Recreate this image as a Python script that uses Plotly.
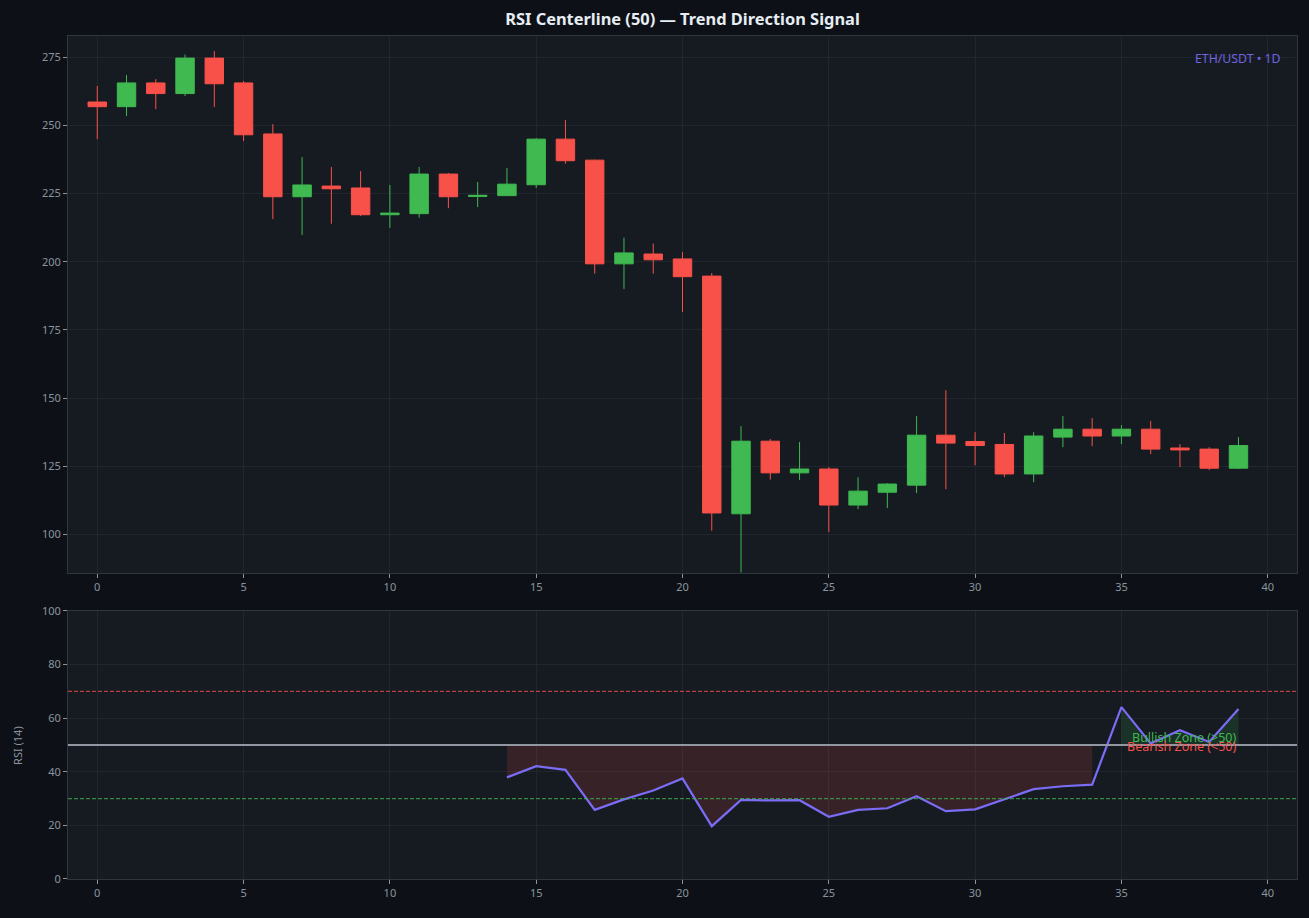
import plotly.graph_objects as go
from plotly.subplots import make_subplots

# candle data (index 0..39)
days = list(range(40))
opens = [258.5, 256.8, 265.5, 261.6, 274.6, 265.5, 246.8, 223.8, 227.7, 227.0,
         217.2, 217.6, 232.1, 223.9, 224.2, 228.2, 244.9, 237.2, 199.2, 202.8,
         201.0, 194.7, 107.6, 134.2, 122.6, 124.0, 110.8, 115.5, 118.1, 136.4,
         134.1, 133.0, 122.2, 135.7, 138.6, 136.1, 138.6, 131.7, 131.3, 124.3]
highs = [264.4, 268.4, 266.9, 275.9, 277.2, 266.2, 250.4, 238.3, 234.7, 233.2,
         228.1, 234.7, 232.5, 229.2, 234.3, 245.3, 251.9, 237.4, 208.8, 206.6,
         203.6, 195.8, 139.7, 135.0, 133.9, 124.7, 121.0, 118.8, 143.4, 152.9,
         137.5, 137.2, 137.5, 143.4, 142.7, 140.1, 141.6, 133.1, 132.0, 135.7]
lows = [244.9, 253.4, 255.9, 260.7, 256.7, 244.2, 215.6, 209.8, 213.9, 216.7,
        212.4, 216.1, 219.6, 220.0, 224.0, 227.0, 235.9, 195.6, 190.0, 195.6,
        181.6, 101.4, 86.1, 120.1, 120.0, 100.9, 109.3, 109.7, 115.2, 116.6,
        125.4, 121.0, 119.2, 132.0, 132.4, 133.1, 129.5, 124.7, 123.6, 124.0]
closes = [256.8, 265.5, 261.6, 274.6, 265.2, 246.5, 223.8, 228.1, 226.7, 217.2,
          217.8, 232.1, 223.8, 224.3, 228.4, 244.9, 237.0, 199.2, 203.2, 200.7,
          194.5, 107.9, 134.2, 122.6, 124.0, 110.8, 115.9, 118.5, 136.4, 133.5,
          132.6, 122.2, 136.1, 138.6, 136.1, 138.6, 131.3, 131.0, 124.3, 132.6]

# RSI(14) starts at day 14
rsi_days = list(range(14, 40))
rsi = [37.9, 42.1, 40.7, 25.8, 29.7, 33.0, 37.5, 19.7, 29.5, 29.3,
       29.4, 23.2, 25.8, 26.4, 30.9, 25.3, 26.0, 29.7, 33.5, 34.6,
       35.2, 64.1, 50.6, 55.5, 51.1, 63.4]

x_ticks = [0, 5, 10, 15, 20, 25, 30, 35, 40]

GREEN = "#3fb950"
RED = "#f85149"
PURPLE = "#7b6cf6"
MUTED = "#8b949e"
GRID = "#21262d"
SPINE = "#30363d"
FONT = "Noto Sans"

fig = make_subplots(rows=2, cols=1, vertical_spacing=0.0)

fig.add_trace(go.Candlestick(
    x=days, open=opens, high=highs, low=lows, close=closes,
    increasing=dict(line=dict(color=GREEN, width=1), fillcolor=GREEN),
    decreasing=dict(line=dict(color=RED, width=1), fillcolor=RED),
    whiskerwidth=0, showlegend=False, hoverinfo="x+y",
), row=1, col=1)

# fill zones between rsi and 50 (runs of same side)
runs = []
cur = None
for d, v in zip(rsi_days, rsi):
    side = v >= 50
    if cur is None or cur[0] != side:
        cur = [side, [], []]
        runs.append(cur)
    cur[1].append(d)
    cur[2].append(v)

for side, xs, ys in runs:
    fill = "rgba(63,185,80,0.15)" if side else "rgba(248,81,73,0.15)"
    fig.add_trace(go.Scatter(x=xs, y=[50] * len(xs), mode="lines",
                             line=dict(width=0), showlegend=False,
                             hoverinfo="skip"), row=2, col=1)
    fig.add_trace(go.Scatter(x=xs, y=ys, mode="lines", line=dict(width=0),
                             fill="tonexty", fillcolor=fill, showlegend=False,
                             hoverinfo="skip"), row=2, col=1)

fig.add_hline(y=70, line=dict(color="rgba(248,81,73,0.7)", width=1.1, dash="4px,2px"), row=2, col=1)
fig.add_hline(y=30, line=dict(color="rgba(63,185,80,0.7)", width=1.1, dash="4px,2px"), row=2, col=1)
fig.add_hline(y=50, line=dict(color="#9198a1", width=2), row=2, col=1)

fig.add_trace(go.Scatter(x=rsi_days, y=rsi, mode="lines",
                         line=dict(color=PURPLE, width=2.2),
                         showlegend=False, name="RSI"), row=2, col=1)

fig.add_annotation(x=39, y=50, xref="x2", yref="y2", text="Bullish Zone (>50)",
                   showarrow=False, xanchor="right", yanchor="bottom", yshift=-3,
                   font=dict(color=GREEN, size=12.5, family=FONT))
fig.add_annotation(x=39, y=50, xref="x2", yref="y2", text="Bearish Zone (<50)",
                   showarrow=False, xanchor="right", yanchor="top", yshift=9,
                   font=dict(color=RED, size=12.5, family=FONT))
fig.add_annotation(x=0.9886, y=0.978, xref="x domain", yref="y domain",
                   text="ETH/USDT • 1D", showarrow=False, xanchor="right",
                   yanchor="top", font=dict(color=PURPLE, size=12.3, family=FONT),
                   opacity=0.9)
fig.add_annotation(x=-0.0407, y=0.159, xref="paper", yref="paper",
                   text="RSI (14)", textangle=-90, showarrow=False,
                   xanchor="center", yanchor="middle",
                   font=dict(color=MUTED, size=11, family=FONT))

axis_common = dict(showgrid=True, gridcolor=GRID, gridwidth=1, zeroline=False,
                   showline=True, linecolor=SPINE, mirror=True,
                   ticks="outside", ticklen=4, tickcolor=MUTED,
                   tickfont=dict(color=MUTED, size=11, family=FONT))

fig.update_xaxes(range=[-1, 41], tickvals=x_ticks, rangeslider_visible=False,
                 **axis_common)
fig.update_yaxes(**axis_common)
fig.update_yaxes(range=[85.9, 282.7], tickvals=[100, 125, 150, 175, 200, 225, 250, 275],
                 domain=[0.363, 1.0], row=1, col=1)
fig.update_yaxes(range=[0, 100], tickvals=[0, 20, 40, 60, 80, 100],
                 domain=[0.0, 0.318], row=2, col=1)

fig.update_layout(
    width=1309, height=918,
    paper_bgcolor="#0d1117", plot_bgcolor="#161b22",
    margin=dict(l=68, r=12, t=36, b=39),
    boxgap=0.37, boxgroupgap=0,
    title=dict(text="<b>RSI Centerline (50) — Trend Direction Signal</b>",
               xref="paper", x=0.5, xanchor="center", y=1 - 19 / 918, yanchor="middle",
               font=dict(color="#e6edf3", size=16.4, family=FONT)),
    font=dict(family=FONT, color=MUTED),
    showlegend=False,
)

fig.write_html("out.html", config={"displayModeBar": False},
               post_script="document.body.style.margin='0';"
                           "document.body.style.background='#0d1117';")
